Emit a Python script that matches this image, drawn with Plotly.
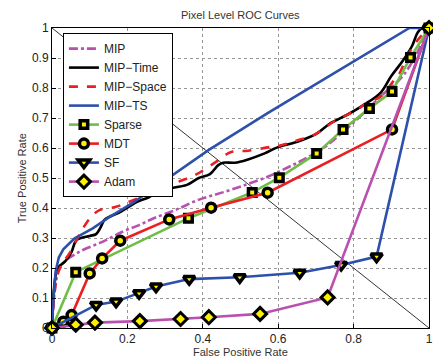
import plotly.graph_objects as go

# ---- data ----
mip_x = [0, 0.008, 0.02, 0.039, 0.06, 0.082, 0.135, 0.187, 0.231, 0.27, 0.327, 0.388, 0.458, 0.52, 0.572, 0.625, 0.668, 0.72, 0.8, 0.87, 0.936, 1]
mip_y = [0, 0.13, 0.2, 0.228, 0.245, 0.26, 0.288, 0.321, 0.343, 0.366, 0.393, 0.427, 0.454, 0.48, 0.504, 0.535, 0.562, 0.6, 0.685, 0.77, 0.849, 1]

time_x = [0, 0.006, 0.015, 0.035, 0.052, 0.065, 0.1, 0.117, 0.13, 0.139, 0.183, 0.227, 0.257, 0.292, 0.358, 0.388, 0.419, 0.441, 0.454, 0.485, 0.52, 0.564, 0.598, 0.651, 0.703, 0.738, 0.782, 0.826, 0.87, 0.9, 0.93, 0.955, 0.97, 0.982, 1]
time_y = [0, 0.14, 0.2, 0.222, 0.254, 0.293, 0.307, 0.313, 0.338, 0.36, 0.388, 0.421, 0.436, 0.46, 0.477, 0.499, 0.513, 0.543, 0.551, 0.551, 0.562, 0.582, 0.602, 0.621, 0.649, 0.682, 0.71, 0.743, 0.782, 0.84, 0.89, 0.94, 0.985, 1.0, 1]

space_x = [0, 0.005, 0.015, 0.03, 0.047, 0.069, 0.082, 0.104, 0.126, 0.17, 0.205, 0.249, 0.283, 0.336, 0.38, 0.432, 0.467, 0.48, 0.52, 0.572, 0.6, 0.65, 0.694, 0.75, 0.808, 0.834, 0.87, 0.905, 0.922, 0.94, 0.97, 1]
space_y = [0, 0.1, 0.18, 0.22, 0.25, 0.302, 0.332, 0.371, 0.393, 0.404, 0.421, 0.443, 0.462, 0.488, 0.51, 0.551, 0.582, 0.588, 0.591, 0.602, 0.607, 0.625, 0.643, 0.69, 0.727, 0.749, 0.77, 0.822, 0.849, 0.9, 0.96, 1]

ts_x = [0, 0.004, 0.01, 0.018, 0.03, 0.06, 0.108, 0.148, 0.213, 0.257, 0.415, 0.572, 0.782, 0.948, 1]
ts_y = [0, 0.1, 0.19, 0.235, 0.262, 0.299, 0.332, 0.366, 0.416, 0.455, 0.593, 0.716, 0.873, 1, 1]

sparse_x = [0, 0.063, 0.362, 0.531, 0.603, 0.702, 0.772, 0.842, 0.902, 0.951, 1]
sparse_y = [0, 0.186, 0.366, 0.452, 0.501, 0.582, 0.662, 0.732, 0.788, 0.902, 1]

mdt_x = [0, 0.03, 0.052, 0.1, 0.133, 0.181, 0.311, 0.422, 0.572, 0.902, 1]
mdt_y = [0, 0.021, 0.043, 0.182, 0.232, 0.291, 0.362, 0.401, 0.451, 0.662, 1]

sf_x = [0, 0.117, 0.17, 0.231, 0.276, 0.364, 0.498, 0.657, 0.767, 0.861, 1]
sf_y = [0, 0.077, 0.088, 0.116, 0.138, 0.163, 0.169, 0.184, 0.21, 0.238, 1]

adam_x = [0, 0.063, 0.114, 0.233, 0.341, 0.416, 0.552, 0.731, 1]
adam_y = [0, 0.011, 0.018, 0.023, 0.03, 0.036, 0.047, 0.102, 1]

eer_x = [0, 1]
eer_y = [1, 0]

x_ticks = [0, 0.2, 0.4, 0.6, 0.8, 1]
x_tick_text = ["0", "0.2", "0.4", "0.6", "0.8", "1"]
y_ticks = [0, 0.1, 0.2, 0.3, 0.4, 0.5, 0.6, 0.7, 0.8, 0.9, 1]
y_tick_text = ["0", "0.1", "0.2", "0.3", "0.4", "0.5", "0.6", "0.7", "0.8", "0.9", "1"]

MAG = "rgb(185,80,175)"
BLUE = "rgb(45,80,170)"
RED = "rgb(235,30,35)"
GREEN = "rgb(110,190,70)"
YEL = "rgb(250,240,0)"

fig = go.Figure()
fig.add_trace(go.Scatter(x=eer_x, y=eer_y, mode="lines", line=dict(color="black", width=0.8),
                         showlegend=False, hoverinfo="skip"))

lw = 2.6
fig.add_trace(go.Scatter(x=mip_x, y=mip_y, mode="lines", name="MIP",
                         line=dict(color=MAG, width=lw, dash="dashdot"), line_shape="spline"))
fig.add_trace(go.Scatter(x=time_x, y=time_y, mode="lines", name="MIP\u2212Time",
                         line=dict(color="black", width=lw), line_shape="spline"))
fig.add_trace(go.Scatter(x=space_x, y=space_y, mode="lines", name="MIP\u2212Space",
                         line=dict(color=RED, width=lw, dash="dash"), line_shape="spline"))
fig.add_trace(go.Scatter(x=ts_x, y=ts_y, mode="lines", name="MIP\u2212TS",
                         line=dict(color=BLUE, width=lw)))

def mk(sym, size, w=3.5):
    return dict(symbol=sym, size=size, color=YEL, line=dict(color="black", width=w))

fig.add_trace(go.Scatter(x=sparse_x, y=sparse_y, mode="lines+markers", name="Sparse",
                         line=dict(color=GREEN, width=lw), marker=mk("square", 7.5), cliponaxis=False))
fig.add_trace(go.Scatter(x=mdt_x, y=mdt_y, mode="lines+markers", name="MDT",
                         line=dict(color=RED, width=lw), marker=mk("circle", 9), cliponaxis=False))
fig.add_trace(go.Scatter(x=sf_x, y=sf_y, mode="lines+markers", name="SF",
                         line=dict(color=BLUE, width=lw), marker=mk("triangle-down", 10), cliponaxis=False))
fig.add_trace(go.Scatter(x=adam_x, y=adam_y, mode="lines+markers", name="Adam",
                         line=dict(color=MAG, width=lw), marker=mk("diamond", 10, 3), cliponaxis=False))

axis_common = dict(range=[0, 1], showgrid=True, gridcolor="rgb(150,150,150)", griddash="dot",
                   gridwidth=1, zeroline=False, showline=True, linecolor="black", linewidth=1,
                   mirror=True, ticks="inside", ticklen=4, tickcolor="black",
                   tickfont=dict(size=12, color="#222"))

# The page body adds an 8px margin, so the figure is 8px smaller and offset accordingly.
fig.update_layout(
    width=433, height=352,
    margin=dict(l=44, r=8, t=20, b=32),
    paper_bgcolor="white", plot_bgcolor="white",
    font=dict(family="Liberation Sans, Arial, sans-serif", color="#222"),
    xaxis=dict(**axis_common, tickvals=x_ticks, ticktext=x_tick_text),
    yaxis=dict(**axis_common, tickvals=y_ticks, ticktext=y_tick_text),
    legend=dict(x=0.029, y=0.983, xanchor="left", yanchor="top", bgcolor="white",
                bordercolor="black", borderwidth=1, font=dict(size=12, color="#222"),
                tracegroupgap=0),
    showlegend=True,
    annotations=[
        dict(text="Pixel Level ROC Curves", xref="paper", yref="paper", x=0.501, y=1.043,
             xanchor="center", yanchor="middle", showarrow=False, font=dict(size=11, color="#333")),
        dict(text="False Positive Rate", xref="paper", yref="paper", x=0.5, y=-0.08,
             xanchor="center", yanchor="middle", showarrow=False, font=dict(size=11, color="#333")),
        dict(text="True Positive Rate", xref="paper", yref="paper", x=-0.079, y=0.5,
             xanchor="center", yanchor="middle", textangle=-90, showarrow=False,
             font=dict(size=11, color="#333")),
    ],
)

fig.write_html("out.html")
